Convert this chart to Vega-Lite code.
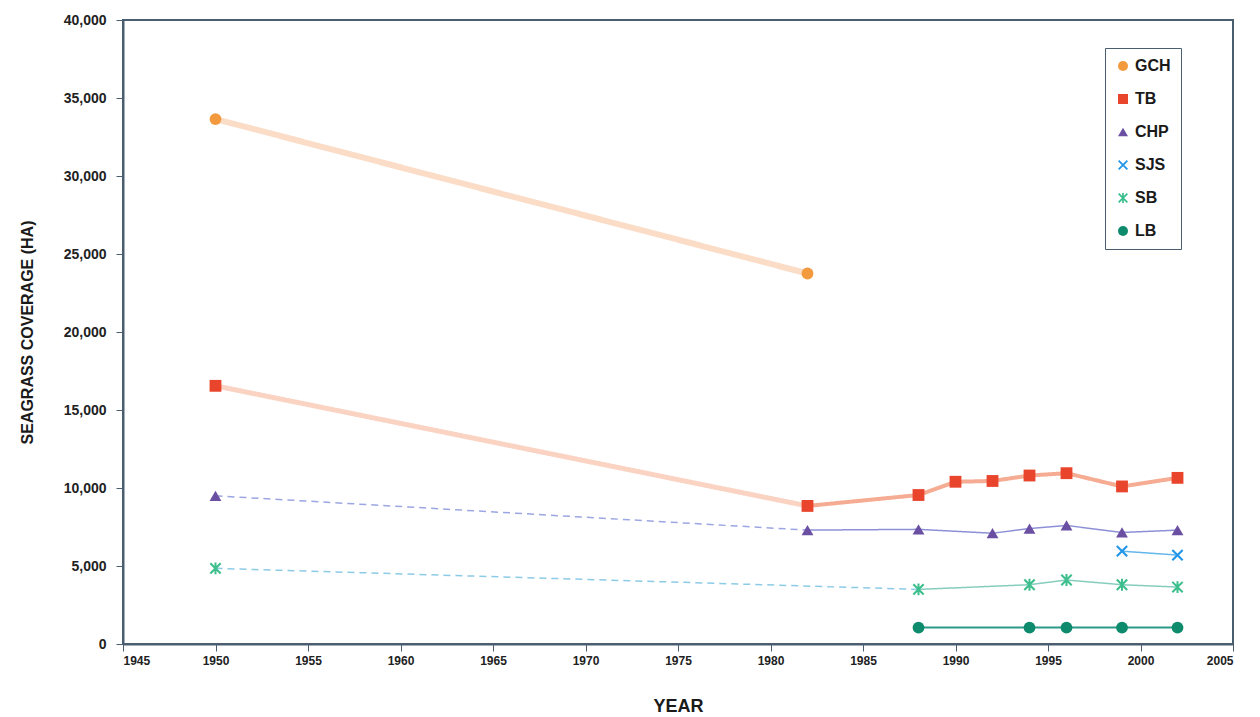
{
  "$schema": "https://vega.github.io/schema/vega-lite/v6.json",
  "width": 1110,
  "height": 624,
  "autosize": "none",
  "padding": {"left": 123, "top": 20, "right": 27, "bottom": 73},
  "background": "white",
  "config": {
    "view": {"stroke": "#4A5E70", "strokeWidth": 2},
    "font": "Liberation Sans"
  },
  "datasets": {
    "lines": [
      {"seg": "GCH a", "year": 1950, "value": 33650},
      {"seg": "GCH a", "year": 1982, "value": 23750},
      {"seg": "TB a", "year": 1950, "value": 16550},
      {"seg": "TB a", "year": 1982, "value": 8850},
      {"seg": "TB b", "year": 1982, "value": 8850},
      {"seg": "TB b", "year": 1988, "value": 9550},
      {"seg": "TB b", "year": 1990, "value": 10400},
      {"seg": "TB b", "year": 1992, "value": 10450},
      {"seg": "TB b", "year": 1994, "value": 10800},
      {"seg": "TB b", "year": 1996, "value": 10950},
      {"seg": "TB b", "year": 1999, "value": 10100},
      {"seg": "TB b", "year": 2002, "value": 10650},
      {"seg": "CHP a", "year": 1950, "value": 9500},
      {"seg": "CHP a", "year": 1982, "value": 7300},
      {"seg": "CHP b", "year": 1982, "value": 7300},
      {"seg": "CHP b", "year": 1988, "value": 7350},
      {"seg": "CHP b", "year": 1992, "value": 7100},
      {"seg": "CHP b", "year": 1994, "value": 7400},
      {"seg": "CHP b", "year": 1996, "value": 7600},
      {"seg": "CHP b", "year": 1999, "value": 7150},
      {"seg": "CHP b", "year": 2002, "value": 7300},
      {"seg": "SJS b", "year": 1999, "value": 5950},
      {"seg": "SJS b", "year": 2002, "value": 5700},
      {"seg": "SB a", "year": 1950, "value": 4850},
      {"seg": "SB a", "year": 1988, "value": 3500},
      {"seg": "SB b", "year": 1988, "value": 3500},
      {"seg": "SB b", "year": 1994, "value": 3800},
      {"seg": "SB b", "year": 1996, "value": 4100},
      {"seg": "SB b", "year": 1999, "value": 3800},
      {"seg": "SB b", "year": 2002, "value": 3650},
      {"seg": "LB b", "year": 1988, "value": 1050},
      {"seg": "LB b", "year": 1994, "value": 1050},
      {"seg": "LB b", "year": 1996, "value": 1050},
      {"seg": "LB b", "year": 1999, "value": 1050},
      {"seg": "LB b", "year": 2002, "value": 1050}
    ],
    "points": [
      {"series": "GCH", "year": 1950, "value": 33650},
      {"series": "GCH", "year": 1982, "value": 23750},
      {"series": "TB", "year": 1950, "value": 16550},
      {"series": "TB", "year": 1982, "value": 8850},
      {"series": "TB", "year": 1988, "value": 9550},
      {"series": "TB", "year": 1990, "value": 10400},
      {"series": "TB", "year": 1992, "value": 10450},
      {"series": "TB", "year": 1994, "value": 10800},
      {"series": "TB", "year": 1996, "value": 10950},
      {"series": "TB", "year": 1999, "value": 10100},
      {"series": "TB", "year": 2002, "value": 10650},
      {"series": "CHP", "year": 1950, "value": 9500},
      {"series": "CHP", "year": 1982, "value": 7300},
      {"series": "CHP", "year": 1988, "value": 7350},
      {"series": "CHP", "year": 1992, "value": 7100},
      {"series": "CHP", "year": 1994, "value": 7400},
      {"series": "CHP", "year": 1996, "value": 7600},
      {"series": "CHP", "year": 1999, "value": 7150},
      {"series": "CHP", "year": 2002, "value": 7300},
      {"series": "SJS", "year": 1999, "value": 5950},
      {"series": "SJS", "year": 2002, "value": 5700},
      {"series": "SB", "year": 1950, "value": 4850},
      {"series": "SB", "year": 1988, "value": 3500},
      {"series": "SB", "year": 1994, "value": 3800},
      {"series": "SB", "year": 1996, "value": 4100},
      {"series": "SB", "year": 1999, "value": 3800},
      {"series": "SB", "year": 2002, "value": 3650},
      {"series": "LB", "year": 1988, "value": 1050},
      {"series": "LB", "year": 1994, "value": 1050},
      {"series": "LB", "year": 1996, "value": 1050},
      {"series": "LB", "year": 1999, "value": 1050},
      {"series": "LB", "year": 2002, "value": 1050}
    ]
  },
  "encoding": {
    "x": {
      "field": "year", "type": "quantitative",
      "scale": {"domain": [1945, 2005], "nice": false, "zero": false},
      "axis": {
        "title": "YEAR", "values": [1945,1950,1955,1960,1965,1970,1975,1980,1985,1990,1995,2000,2005],
        "format": "d", "grid": false, "domainColor": "#4A5E70", "domainWidth": 2,
        "tickColor": "#4A5E70", "tickSize": 7, "labelFontSize": 12, "labelFontWeight": "bold",
        "labelColor": "#222222", "labelPadding": 4,
        "titleFontSize": 18, "titleFontWeight": "bold", "titleColor": "#1a1a1a", "titlePadding": 31
      }
    },
    "y": {
      "field": "value", "type": "quantitative",
      "scale": {"domain": [0, 40000], "nice": false},
      "axis": {
        "title": "SEAGRASS COVERAGE (HA)", "values": [0,5000,10000,15000,20000,25000,30000,35000,40000],
        "format": ",d", "grid": false, "domainColor": "#4A5E70", "domainWidth": 2,
        "tickColor": "#4A5E70", "tickSize": 7, "labelFontSize": 14, "labelFontWeight": "bold",
        "labelColor": "#222222", "labelPadding": 10,
        "titleFontSize": 16, "titleFontWeight": "bold", "titleColor": "#1a1a1a", "titlePadding": 28
      }
    }
  },
  "layer": [
    {
      "data": {"name": "lines"},
      "mark": {"type": "line", "strokeCap": "butt", "strokeJoin": "round"},
      "encoding": {
        "stroke": {
          "field": "seg", "type": "nominal", "legend": null,
          "scale": {
            "domain": ["GCH a","TB a","TB b","CHP a","CHP b","SJS b","SB a","SB b","LB b"],
            "range": ["#FBDCC6","#FAD3C2","#F5AC92","#9CA6E2","#8E90D6","#64B6EC","#8CCBE6","#86CDBD","#2A9987"]
          }
        },
        "strokeDash": {
          "field": "seg", "type": "nominal", "legend": null,
          "scale": {
            "domain": ["GCH a","TB a","TB b","CHP a","CHP b","SJS b","SB a","SB b","LB b"],
            "range": [[1,0],[1,0],[1,0],[7,5],[1,0],[1,0],[7,5],[1,0],[1,0]]
          }
        },
        "strokeWidth": {
          "field": "seg", "type": "nominal", "legend": null,
          "scale": {
            "type": "ordinal",
            "domain": ["GCH a","TB a","TB b","CHP a","CHP b","SJS b","SB a","SB b","LB b"],
            "range": [6, 5, 4, 1.5, 1.5, 1.5, 1.5, 1.5, 2]
          }
        }
      }
    },
    {
      "data": {"name": "points"},
      "mark": {"type": "point", "filled": true, "opacity": 1, "size": 140},
      "encoding": {
        "fill": {
          "field": "series", "type": "nominal",
          "scale": {
            "domain": ["GCH","TB","CHP","SJS","SB","LB"],
            "range": ["#F39A3E","#E9452D","#6A4FA3","#2196E8","#3DBF8D","#0E8B6D"]
          },
          "legend": {
            "title": null, "orient": "none", "legendX": 982, "legendY": 28,
            "strokeColor": "#4A5E70", "padding": 10,
            "labelFontSize": 16, "labelFontWeight": "bold", "labelColor": "#1a1a1a",
            "symbolSize": 100, "rowPadding": 17, "labelOffset": 4
          }
        },
        "shape": {
          "field": "series", "type": "nominal",
          "scale": {
            "domain": ["GCH","TB","CHP","SJS","SB","LB"],
            "range": [
              "circle", "square", "triangle-up",
              "M-1,-0.75L-0.75,-1L1,0.75L0.75,1Z M-1,0.75L0.75,-1L1,-0.75L-0.75,1Z",
              "M-1,-0.75L-0.75,-1L1,0.75L0.75,1Z M-1,0.75L0.75,-1L1,-0.75L-0.75,1Z M-0.17,-1L0.17,-1L0.17,1L-0.17,1Z",
              "circle"
            ]
          }
        }
      }
    }
  ]
}
